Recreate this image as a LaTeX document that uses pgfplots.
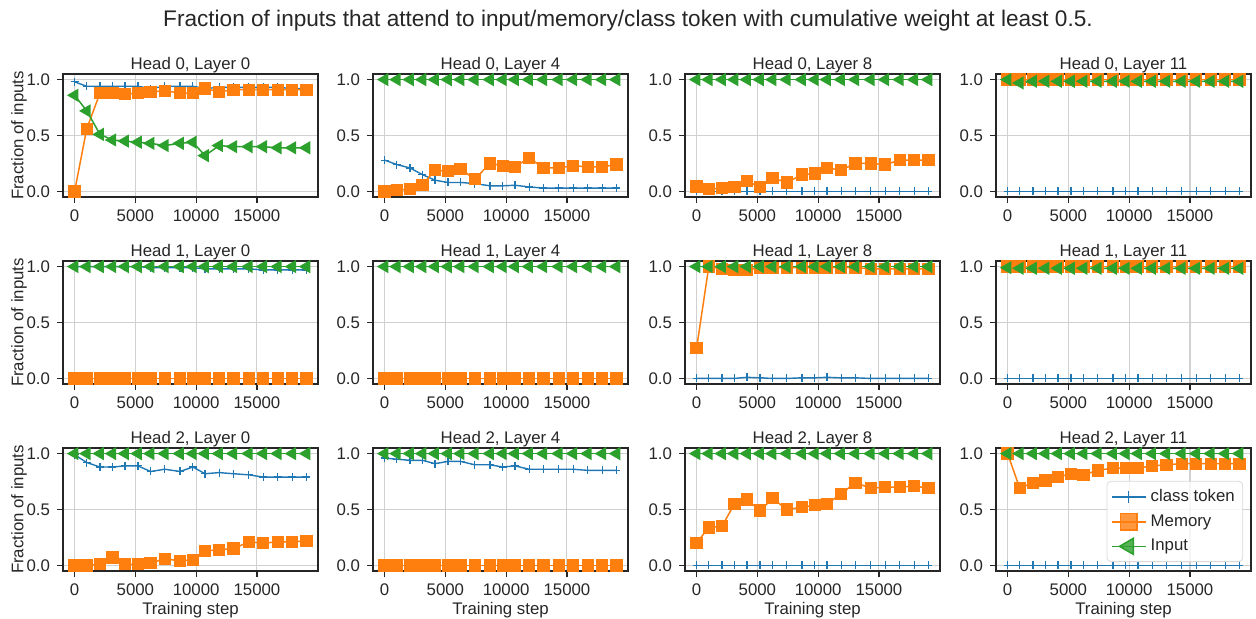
\documentclass[border=0pt]{standalone}
\usepackage{fontspec}
\setmainfont{Liberation Sans}
\usepackage{pgfplots}
\usepackage{pgfplotstable}
\pgfplotsset{compat=1.18}
\definecolor{cB}{HTML}{1F77B4}
\definecolor{cO}{HTML}{FF7F0E}
\definecolor{cG}{HTML}{2CA02C}
\definecolor{fg}{HTML}{262626}
\definecolor{gridc}{HTML}{D0D0D0}

\pgfplotstableread{
x c m i
0 0.98 0.00 0.86
1000 0.94 0.56 0.72
2090 0.94 0.88 0.51
3110 0.94 0.88 0.46
4150 0.94 0.87 0.45
5210 0.94 0.88 0.44
6250 0.92 0.89 0.43
7420 0.94 0.90 0.41
8670 0.94 0.88 0.43
9730 0.94 0.88 0.44
10730 0.92 0.92 0.32
11890 0.93 0.89 0.41
13060 0.93 0.91 0.40
14330 0.93 0.91 0.40
15520 0.93 0.91 0.40
16720 0.93 0.91 0.39
17910 0.92 0.91 0.39
19070 0.92 0.91 0.39
}\tA
\pgfplotstableread{
x c m i
0 0.28 0.00 1
1000 0.24 0.01 1
2090 0.21 0.02 1
3110 0.15 0.06 1
4150 0.10 0.19 1
5210 0.08 0.18 1
6250 0.08 0.20 1
7420 0.07 0.11 1
8670 0.05 0.25 1
9730 0.05 0.23 1
10730 0.055 0.22 1
11890 0.04 0.30 1
13060 0.03 0.21 1
14330 0.03 0.21 1
15520 0.03 0.23 1
16720 0.03 0.22 1
17910 0.03 0.22 1
19070 0.03 0.24 1
}\tB
\pgfplotstableread{
x c m i
0 0 0.045 1
1000 0 0.02 1
2090 0 0.03 1
3110 0 0.04 1
4150 0 0.09 1
5210 0 0.04 1
6250 0 0.12 1
7420 0 0.08 1
8670 0 0.15 1
9730 0 0.16 1
10730 0 0.21 1
11890 0 0.19 1
13060 0 0.25 1
14330 0 0.25 1
15520 0 0.24 1
16720 0 0.28 1
17910 0 0.28 1
19070 0 0.28 1
}\tC
\pgfplotstableread{
x c m i
0 0 1 1.0
1000 0 1 0.97
2090 0 1 0.985
3110 0 1 0.985
4150 0 1 0.985
5210 0 1 0.985
6250 0 1 0.985
7420 0 1 0.985
8670 0 1 0.985
9730 0 1 0.985
10730 0 1 0.985
11890 0 1 0.985
13060 0 1 0.985
14330 0 1 0.985
15520 0 1 0.985
16720 0 1 0.985
17910 0 1 0.985
19070 0 1 0.985
}\tD
\pgfplotstableread{
x c m i
0 1 0 1
1000 1 0 1
2090 1 0 1
3110 1 0 1
4150 1 0 1
5210 1 0 1
6250 0.99 0 1
7420 0.99 0 1
8670 0.99 0 1
9730 0.99 0 1
10730 0.98 0 1
11890 0.98 0 1
13060 0.98 0 1
14330 0.98 0 1
15520 0.97 0 1
16720 0.97 0 1
17910 0.97 0 1
19070 0.97 0 1
}\tE
\pgfplotstableread{
x c m i
0 0 0 1
1000 0 0 1
2090 0 0 1
3110 0 0 1
4150 0 0 1
5210 0 0 1
6250 0 0 1
7420 0 0 1
8670 0 0 1
9730 0 0 1
10730 0 0 1
11890 0 0 1
13060 0 0 1
14330 0 0 1
15520 0 0 1
16720 0 0 1
17910 0 0 1
19070 0 0 1
}\tF
\pgfplotstableread{
x c m i
0 0 0.27 1
1000 0 1.0 1
2090 0 0.98 1
3110 0 0.97 1
4150 0.01 0.97 1
5210 0.005 0.99 1
6250 0 0.99 1
7420 0 0.99 1
8670 0.005 0.99 1
9730 0.005 0.99 1
10730 0.01 0.99 1
11890 0.005 0.99 1
13060 0.005 0.99 1
14330 0 0.98 1
15520 0 0.98 1
16720 0 0.98 1
17910 0 0.98 1
19070 0 0.98 1
}\tG
\pgfplotstableread{
x c m i
0 0 1 0.99
1000 0 1 0.985
2090 0 1 0.985
3110 0 1 0.985
4150 0 1 0.985
5210 0 1 0.985
6250 0 1 0.985
7420 0 1 0.985
8670 0 1 0.985
9730 0 1 0.985
10730 0 1 0.985
11890 0 1 0.985
13060 0 1 0.985
14330 0 1 0.985
15520 0 1 0.985
16720 0 1 0.985
17910 0 1 0.985
19070 0 1 0.985
}\tH
\pgfplotstableread{
x c m i
0 0.99 0.00 1
1000 0.92 0.00 1
2090 0.88 0.01 1
3110 0.88 0.07 1
4150 0.89 0.01 1
5210 0.89 0.01 1
6250 0.84 0.02 1
7420 0.86 0.06 1
8670 0.84 0.04 1
9730 0.88 0.05 1
10730 0.82 0.13 1
11890 0.83 0.14 1
13060 0.82 0.15 1
14330 0.81 0.21 1
15520 0.79 0.20 1
16720 0.79 0.21 1
17910 0.79 0.21 1
19070 0.79 0.22 1
}\tI
\pgfplotstableread{
x c m i
0 0.96 0 1
1000 0.95 0 1
2090 0.94 0 1
3110 0.94 0 1
4150 0.91 0 1
5210 0.93 0 1
6250 0.93 0 1
7420 0.90 0 1
8670 0.90 0 1
9730 0.88 0 1
10730 0.89 0 1
11890 0.86 0 1
13060 0.86 0 1
14330 0.86 0 1
15520 0.86 0 1
16720 0.85 0 1
17910 0.85 0 1
19070 0.85 0 1
}\tJ
\pgfplotstableread{
x c m i
0 0 0.20 1
1000 0 0.34 1
2090 0 0.35 1
3110 0 0.55 1
4150 0 0.59 1
5210 0 0.49 1
6250 0 0.60 1
7420 0 0.50 1
8670 0 0.52 1
9730 0 0.54 1
10730 0 0.55 1
11890 0 0.64 1
13060 0 0.74 1
14330 0 0.69 1
15520 0 0.70 1
16720 0 0.70 1
17910 0 0.71 1
19070 0 0.69 1
}\tK
\pgfplotstableread{
x c m i
0 0 1.00 1
1000 0 0.69 1
2090 0 0.74 1
3110 0 0.76 1
4150 0 0.79 1
5210 0 0.82 1
6250 0 0.81 1
7420 0 0.85 1
8670 0 0.87 1
9730 0 0.87 1
10730 0 0.87 1
11890 0 0.89 1
13060 0 0.90 1
14330 0 0.91 1
15520 0 0.91 1
16720 0 0.91 1
17910 0 0.91 1
19070 0 0.91 1
}\tL

\newcommand{\fsz}{\fontsize{8.4}{10}\selectfont}

\pgfplotsset{
  panel/.style={
    scale only axis, width=127.5pt, height=61.5pt, anchor=south west,
    xmin=-953.5, xmax=20023.5, ymin=-0.05, ymax=1.05,
    xtick={0,5000,10000,15000}, ytick={0,0.5,1},
    grid=major, major grid style={gridc, line width=0.55pt},
    axis line style={fg, line width=1pt},
    tick align=outside, major tick length=3pt,
    tick style={fg, line width=0.6pt},
    xtick pos=left, ytick pos=left,
    scaled x ticks=false,
    xticklabel style={/pgf/number format/1000 sep={}},
    yticklabel style={/pgf/number format/.cd, fixed, fixed zerofill, precision=1},
    /pgf/number format/assume math mode=true,
    tick label style={font=\fsz, text=fg},
    title style={font=\fsz, text=fg, inner sep=1.5pt, yshift=-7pt},
    label style={font=\fsz, text=fg},
    ylabel shift=-7pt, xlabel shift=-3.5pt,
  },
  cls/.style={cB, line width=0.7pt, mark=+, mark size=2pt, mark options={line width=0.6pt}},
  mem/.style={cO, line width=0.75pt, mark=square*, mark size=2.7pt, mark options={fill=cO, draw=cO}},
  inp/.style={cG, line width=0.75pt, mark=triangle*, mark size=3.1pt, mark options={rotate=90, fill=cG, draw=cG}},
}

\newcommand{\panel}[5]{%
\begin{axis}[panel, at={(#1,#2)}, title={#3}, #5]
\addplot[cls] table[x=x,y=c]{#4};
\addplot[mem] table[x=x,y=m]{#4};
\addplot[inp] table[x=x,y=i]{#4};
\end{axis}}

\begin{document}
\begin{tikzpicture}
\path[use as bounding box] (0,0) rectangle (628pt,309pt);
\node[text=fg, font=\fontsize{11.3}{13}\selectfont] at (314pt,298.5pt) {Fraction of inputs that attend to input/memory/class token with cumulative weight at least 0.5.};
\panel{31.5pt}{210.5pt}{Head 0, Layer 0}{\tA}{ylabel={Fraction of inputs}}
\panel{186.5pt}{210.5pt}{Head 0, Layer 4}{\tB}{}
\panel{342.5pt}{210.5pt}{Head 0, Layer 8}{\tC}{}
\panel{498pt}{210.5pt}{Head 0, Layer 11}{\tD}{}
\panel{31.5pt}{117pt}{Head 1, Layer 0}{\tE}{ylabel={Fraction of inputs}}
\panel{186.5pt}{117pt}{Head 1, Layer 4}{\tF}{}
\panel{342.5pt}{117pt}{Head 1, Layer 8}{\tG}{}
\panel{498pt}{117pt}{Head 1, Layer 11}{\tH}{}
\panel{31.5pt}{23.5pt}{Head 2, Layer 0}{\tI}{ylabel={Fraction of inputs}, xlabel={Training step}}
\panel{186.5pt}{23.5pt}{Head 2, Layer 4}{\tJ}{xlabel={Training step}}
\panel{342.5pt}{23.5pt}{Head 2, Layer 8}{\tK}{xlabel={Training step}}
\panel{498pt}{23.5pt}{Head 2, Layer 11}{\tL}{xlabel={Training step},
  legend entries={class token, Memory, Input},
  legend image post style={every mark/.append style={scale=1.5}},
  legend style={at={(0.969,0.073)}, anchor=south east, font=\fsz, text=fg,
    draw=gray!30, rounded corners=2pt, fill=white, fill opacity=0.8, text opacity=1,
    inner sep=2pt, row sep=1pt},
  legend cell align=left}
\end{tikzpicture}
\end{document}
